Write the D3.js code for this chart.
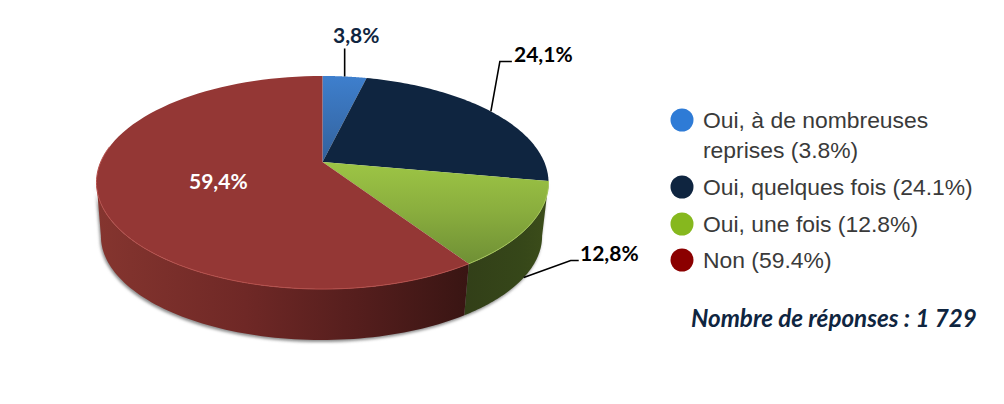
<!DOCTYPE html>
<html><head><meta charset="utf-8">
<style>html,body{margin:0;padding:0;background:#fff;overflow:hidden}svg{display:block}</style>
<script src="https://cdn.jsdelivr.net/npm/d3@7"></script>
</head><body>
<svg id="c" width="1004" height="404"></svg>
<script>
const categories = ["Oui, à de nombreuses reprises", "Oui, quelques fois", "Oui, une fois", "Non"];
const values = [3.8, 24.1, 12.8, 59.4];
const sliceLabels = ["3,8%", "24,1%", "12,8%", "59,4%"];
const legendLines = [["Oui, à de nombreuses", "reprises (3.8%)"], ["Oui, quelques fois (24.1%)"], ["Oui, une fois (12.8%)"], ["Non (59.4%)"]];
const legendColors = ["#2e7bd6", "#0f2540", "#86b81e", "#8b0000"];
const footnote = "Nombre de réponses : 1 729";

const svg = d3.select("#c");
const defs = svg.append("defs");

// Perspective projection of the pie disc.
const cx = 322.5, apexY = 162, p = 0.1925, a = 221.8, b = 102.6;
const top3d = t => {
  const u = Math.sin(t), v = -Math.cos(t), w = 1 - p * v;
  return [cx + a * u / w, apexY + b * v / w];
};
const base3d = t => {
  const q = top3d(t);
  return [321.5 + 0.976 * (q[0] - cx), 236 + 0.976 * (q[1] - 182.5)];
};
const arcs = d3.pie().sort(null)(values);
const sample = (s, e, f) => d3.range(0, 81).map(i => f(s + (e - s) * i / 80));
const line = d3.line();

function grad(id, dir, stops, c0, c1) {
  const g = defs.append("linearGradient").attr("id", id).attr("gradientUnits", "userSpaceOnUse");
  if (dir === "x") g.attr("x1", c0).attr("x2", c1).attr("y1", 0).attr("y2", 0);
  else g.attr("y1", c0).attr("y2", c1).attr("x1", 0).attr("x2", 0);
  stops.forEach(s => g.append("stop").attr("offset", s[0]).attr("stop-color", s[1]));
}
grad("t0", "y", [[0, "#3e7fcd"], [1, "#33619b"]], 76, 162);
grad("t1", "y", [[0, "#0f2540"], [1, "#0f2540"]], 76, 180);
grad("t2", "y", [[0, "#9dc545"], [0.45, "#8aae3e"], [1, "#6c8c34"]], 162, 270);
grad("t3", "y", [[0, "#943735"], [1, "#943735"]], 76, 289);
grad("s1", "x", [[0, "#0c1c30"], [1, "#0c1c30"]], 400, 548);
grad("s2", "x", [[0, "#323f18"], [0.7, "#364719"], [1, "#3c4d1a"]], 464, 548);
grad("s3", "x", [[0, "#85352f"], [0.4, "#6f2826"], [0.7, "#551e1d"], [1, "#391513"]], 97, 468);

const blur = defs.append("filter").attr("id", "shadow")
  .attr("x", "-5%").attr("y", "-5%").attr("width", "110%").attr("height", "115%");
blur.append("feGaussianBlur").attr("stdDeviation", 1.6);

const body = svg.append("g");
// The wall is visible only between the two silhouette tangents of the disc.
const frontStart = Math.acos(-0.19), frontEnd = 2 * Math.PI - frontStart;
const wallRange = d => [Math.max(d.startAngle, frontStart), Math.min(d.endAngle, frontEnd)];
const wallPath = (s, e) => line(sample(s, e, top3d).concat(sample(e, s, base3d))) + "Z";

// soft shadow beneath the wall
body.append("path").attr("d", wallPath(frontStart, frontEnd)).attr("fill", "#8c8c8c")
  .attr("transform", "translate(-1,2)").attr("filter", "url(#shadow)");

// walls
body.selectAll("path.wall").data(arcs.filter(d => wallRange(d)[0] < wallRange(d)[1])).join("path").attr("class", "wall")
  .attr("fill", d => `url(#s${d.index})`)
  .attr("d", d => wallPath(...wallRange(d)));

// top face
body.selectAll("path.face").data(arcs).join("path").attr("class", "face")
  .attr("fill", (d, i) => `url(#t${i})`)
  .attr("d", d => line([[cx, apexY]].concat(sample(d.startAngle, d.endAngle, top3d))) + "Z");

// bright lip on the front rim
const red = arcs[3], green = arcs[2];
body.append("path").attr("fill", "none").attr("stroke", "#b54f4b").attr("stroke-width", 1)
  .attr("d", line(sample(red.startAngle, red.startAngle + (red.endAngle - red.startAngle) * 0.62, top3d)));
body.append("path").attr("fill", "none").attr("stroke", "#a8c95a").attr("stroke-width", 1)
  .attr("d", line(sample(green.startAngle, green.endAngle, top3d)));

// leader lines, anchored on slice mid-angles
const mid = d => (d.startAngle + d.endAngle) / 2;
const leaders = [
  [top3d(mid(arcs[0])), dp => [dp[0], dp[1] - 28]],
  [top3d(mid(arcs[1])), dp => [dp[0] + 9, dp[1] - 50], dp => [dp[0] + 21, dp[1] - 50]],
  [base3d(mid(arcs[2])), dp => [dp[0] + 47, dp[1] - 17], dp => [dp[0] + 55, dp[1] - 17]]
];
svg.selectAll("path.leader").data(leaders).join("path").attr("class", "leader")
  .attr("fill", "none").attr("stroke", "#000").attr("stroke-width", 1.6)
  .attr("d", d => line([d[0]].concat(d.slice(1).map(f => f(d[0])))));

// slice labels
const labelPos = [[333, 42.5, "#0f2540"], [514, 62, "#000"], [580, 260.5, "#000"], [189, 189, "#fff"]];
svg.selectAll("text.sl").data(sliceLabels).join("text").attr("class", "sl")
  .attr("x", (d, i) => labelPos[i][0]).attr("y", (d, i) => labelPos[i][1])
  .attr("fill", (d, i) => labelPos[i][2])
  .attr("font-family", "Lato, 'Open Sans', sans-serif").attr("font-weight", 700).attr("font-size", 21)
  .text(d => d);

// legend
const rowY = [120, 187, 224, 260];
const lg = svg.selectAll("g.lg").data(categories).join("g").attr("class", "lg");
lg.append("circle").attr("cx", 682).attr("cy", (d, i) => rowY[i]).attr("r", 11.5)
  .attr("fill", (d, i) => legendColors[i]);
lg.each(function (d, i) {
  d3.select(this).selectAll("text").data(legendLines[i]).join("text")
    .attr("x", 703).attr("y", (t, j) => rowY[i] + 8 + j * 30)
    .attr("font-family", "'Liberation Sans', Arial, sans-serif").attr("font-size", 22.9)
    .attr("fill", "#3a3a3a").text(t => t);
});

svg.append("text").attr("x", 691).attr("y", 327)
  .attr("font-family", "Lato, 'Open Sans', sans-serif").attr("font-weight", 700).attr("font-style", "italic")
  .attr("font-size", 24.2).attr("fill", "#0f2540").text(footnote);
</script>
</body></html>
